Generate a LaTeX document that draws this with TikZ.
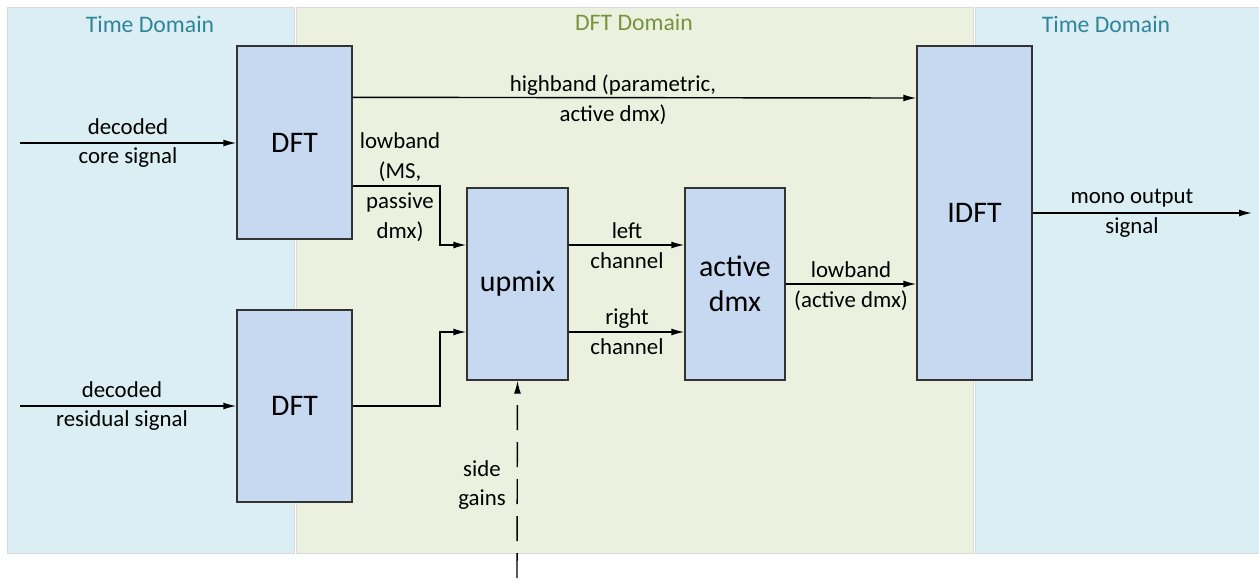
\documentclass[tikz,border=0pt]{standalone}
\usepackage{fontspec}
\setmainfont{Carlito}
\usetikzlibrary{arrows.meta}
\definecolor{time-bg}{RGB}{218,238,243}
\definecolor{dft-bg}{RGB}{235,241,222}
\definecolor{time-title}{RGB}{49,133,155}
\definecolor{dft-title}{RGB}{119,147,60}
\definecolor{block-fill}{RGB}{198,217,240}
\definecolor{frame-grey}{RGB}{217,217,217}

\begin{document}
\begin{tikzpicture}[x=0.02cm, y=-0.02cm,
    block/.style={draw=black!80, line width=0.8pt, fill=block-fill,
        font=\fontsize{17}{20}\selectfont, align=center, inner sep=0pt},
    lbl/.style={font=\fontsize{13}{17}\selectfont, align=center, inner sep=0pt},
    title/.style={font=\fontsize{13.5}{16}\selectfont},
    sig/.style={-{Latex[length=2.6mm,width=1.4mm]}, line width=0.8pt}]

\useasboundingbox (0,0) rectangle (1259,586);

% Domains
\filldraw[fill=time-bg, draw=frame-grey] (7,7) rectangle (294,553);
\filldraw[fill=dft-bg, draw=frame-grey] (296,7) rectangle (973,553);
\filldraw[fill=time-bg, draw=frame-grey] (975,7) rectangle (1259,553);
\node[title, text=time-title] (tdl) at (150,24) {Time Domain};
\node[title, text=dft-title] (fdm) at (634,22) {DFT Domain};
\node[title, text=time-title] (tdr) at (1106,24) {Time Domain};

% Blocks
\node[block, minimum width=2.3cm, minimum height=3.86cm] (dft1) at (294.5,142.5) {DFT};
\node[block, minimum width=2.3cm, minimum height=3.84cm] (dft2) at (294.5,406) {DFT};
\node[block, minimum width=2.02cm, minimum height=3.84cm] (upmix) at (517.5,284) {upmix};
\node[block, minimum width=2.0cm, minimum height=3.84cm] (adm) at (735,284) {active\\dmx};
\node[block, minimum width=2.3cm, minimum height=6.68cm] (idft) at (974.5,213) {IDFT};

% Inputs and output
\coordinate (in1) at (20,143);
\coordinate (in2) at (20,406);
\coordinate (out) at (1252,213);
\coordinate (sg) at (517,578);
\draw[sig] (in1) -- (dft1.west |- in1);
\draw[sig] (in2) -- (dft2.west |- in2);
\draw[sig] (idft.east |- out) -- (out);
\node[lbl] (lin1) at (128,143) {decoded\\core signal};
\node[lbl] (lin2) at (122,406) {decoded\\residual signal};
\node[lbl] (lout) at (1132,213) {mono output\\signal};

% Highband and lowband
\draw[sig] (dft1.north east) ++(0,52) -- (idft.west |- 0,98);
\node[lbl] (lhb) at (613,100) {highband (parametric,\\active dmx)};
\draw[sig] (dft1.east |- 0,186) -| (440,245) -- (upmix.west |- 0,245);
\draw[sig] (dft2.east) -| (440,332) -- (upmix.west |- 0,332);
\node[lbl] (llb) at (400,187) {lowband\\(MS,\\passive\\dmx)};

% Channels
\draw[sig] (upmix.east |- 0,245) -- (adm.west |- 0,245);
\draw[sig] (upmix.east |- 0,332) -- (adm.west |- 0,332);
\node[lbl] (lleft) at (627,246) {left\\channel};
\node[lbl] (lright) at (627,332) {right\\channel};
\draw[sig] (adm.east |- 0,284) -- (idft.west |- 0,284);
\node[lbl] (llow) at (851,286) {lowband\\(active dmx)};

% Side gains
\draw[sig, dash pattern=on 0.5cm off 0.24cm] (sg) -- (upmix.south);
\node[lbl] (lsg) at (482,485) {side\\gains};

\end{tikzpicture}
\end{document}
